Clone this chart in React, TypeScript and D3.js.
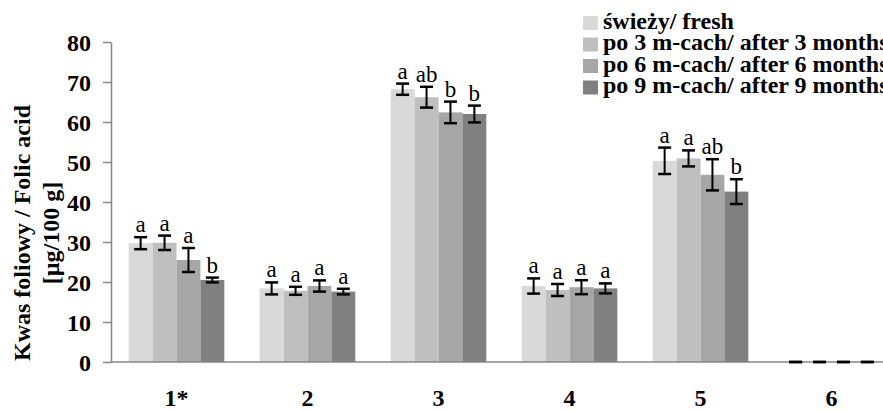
import React, { useEffect, useRef } from "react";
import * as d3 from "d3";

const width = 883;
const height = 410;
const margin = { top: 42, right: -14, bottom: 48, left: 111 };

// categories (samples) and series
const categories = ["1*", "2", "3", "4", "5", "6"];
const seriesNames = [
  "świeży/ fresh",
  "po 3 m-cach/ after 3 months",
  "po 6 m-cach/ after 6 months",
  "po 9 m-cach/ after 9 months",
];
const seriesColors = ["#d9d9d9", "#bfbfbf", "#a6a6a6", "#808080"];

// mean values, ug/100 g
const fresh = [29.7, 18.4, 68.2, 19.0, 50.3, 0];
const after3 = [29.8, 17.8, 66.2, 18.0, 50.9, 0];
const after6 = [25.5, 19.0, 62.4, 18.7, 46.8, 0];
const after9 = [20.5, 17.6, 62.0, 18.4, 42.6, 0];

// error bar half widths
const freshErr = [1.5, 1.5, 1.4, 1.9, 3.3, 0];
const after3Err = [1.8, 1.0, 2.6, 1.5, 2.0, 0];
const after6Err = [3.0, 1.4, 2.7, 1.75, 3.9, 0];
const after9Err = [0.6, 0.7, 2.1, 1.25, 3.1, 0];

// significance letters
const freshLetters = ["a", "a", "a", "a", "a", ""];
const after3Letters = ["a", "a", "ab", "a", "a", ""];
const after6Letters = ["a", "a", "b", "a", "ab", ""];
const after9Letters = ["b", "a", "b", "a", "b", ""];

const yTicks = [0, 10, 20, 30, 40, 50, 60, 70, 80];

const values = [fresh, after3, after6, after9];
const errors = [freshErr, after3Err, after6Err, after9Err];
const letters = [freshLetters, after3Letters, after6Letters, after9Letters];

const font = "'Liberation Serif', 'Times New Roman', serif";
const axisColor = "#868686";

export default function App() {
  const yAxisRef = useRef<SVGGElement>(null);

  const x0 = d3
    .scaleBand()
    .domain(categories)
    .range([margin.left, width - margin.right])
    .paddingInner(0.27)
    .paddingOuter(0.135);

  const x1 = d3
    .scaleBand()
    .domain(seriesNames)
    .range([0, x0.bandwidth()]);

  const y = d3
    .scaleLinear()
    .domain([0, 80])
    .range([height - margin.bottom, margin.top]);

  useEffect(() => {
    const g = d3.select(yAxisRef.current);
    g.call(
      d3.axisLeft(y).tickValues(yTicks).tickSize(8).tickPadding(12).tickSizeOuter(0)
    );
    g.select(".domain").attr("stroke", axisColor).attr("stroke-width", 1.5);
    g.selectAll(".tick line").attr("stroke", axisColor).attr("stroke-width", 1.5);
    g.selectAll(".tick text")
      .attr("fill", "#000")
      .attr("font-family", font)
      .attr("font-weight", "bold")
      .attr("font-size", 24)
      .attr("dy", "0.34em");
  }, []);

  const capW = 13;

  return (
    <svg
      width={width}
      height={height}
      style={{ position: "absolute", left: 0, top: 0, background: "#fff" }}
    >
      {/* bars */}
      {categories.map((c, ci) => (
        <g key={c} transform={`translate(${x0(c)},0)`}>
          {seriesNames.map((s, si) => {
            const v = values[si][ci];
            return (
              <rect
                key={s}
                x={x1(s)}
                y={y(v)}
                width={x1.bandwidth()}
                height={y(0) - y(v)}
                fill={seriesColors[si]}
              />
            );
          })}
        </g>
      ))}

      {/* x axis line */}
      <line
        x1={margin.left}
        x2={width}
        y1={y(0)}
        y2={y(0)}
        stroke={axisColor}
        strokeWidth={1.5}
      />

      {/* error bars and letters */}
      {categories.map((c, ci) => (
        <g key={c} transform={`translate(${x0(c)},0)`}>
          {seriesNames.map((s, si) => {
            const v = values[si][ci];
            const e = errors[si][ci];
            const cx = (x1(s) ?? 0) + x1.bandwidth() / 2;
            const top = y(v + e);
            const bot = y(v - e);
            return (
              <g key={s}>
                <line x1={cx} x2={cx} y1={top} y2={bot} stroke="#000" strokeWidth={2} />
                <line x1={cx - capW / 2} x2={cx + capW / 2} y1={top} y2={top} stroke="#000" strokeWidth={2.5} />
                <line x1={cx - capW / 2} x2={cx + capW / 2} y1={bot} y2={bot} stroke="#000" strokeWidth={2.5} />
                {letters[si][ci] && (
                  <text
                    x={cx}
                    y={top - 5}
                    textAnchor="middle"
                    fontFamily={font}
                    fontSize={23}
                    fill="#000"
                  >
                    {letters[si][ci]}
                  </text>
                )}
              </g>
            );
          })}
        </g>
      ))}

      <g ref={yAxisRef} transform={`translate(${margin.left},0)`} />

      {/* category labels */}
      {categories.map((c) => (
        <text
          key={c}
          x={(x0(c) ?? 0) + x0.bandwidth() / 2}
          y={406}
          textAnchor="middle"
          fontFamily={font}
          fontWeight="bold"
          fontSize={24}
        >
          {c}
        </text>
      ))}

      {/* y title */}
      <g transform="translate(0,233) rotate(-90)">
        <text x={0} y={30} textAnchor="middle" fontFamily={font} fontWeight="bold" fontSize={24}>
          Kwas foliowy / Folic acid
        </text>
        <text x={0} y={59} textAnchor="middle" fontFamily={font} fontWeight="bold" fontSize={24}>
          [µg/100 g]
        </text>
      </g>

      {/* legend */}
      <g transform="translate(583,0)">
        {seriesNames.map((s, i) => (
          <g key={s} transform={`translate(0,${16 + i * 21.5})`}>
            <rect x={0} y={0} width={15} height={14} fill={seriesColors[i]} />
            <text x={20} y={12.5} fontFamily={font} fontWeight="bold" fontSize={24}>
              {s}
            </text>
          </g>
        ))}
      </g>
    </svg>
  );
}
